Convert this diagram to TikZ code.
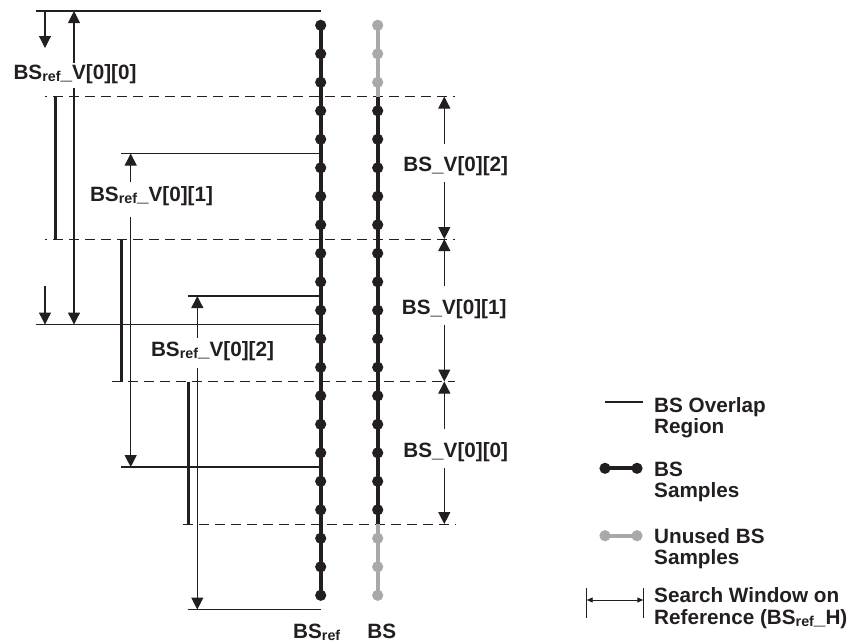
\documentclass[tikz,border=0pt]{standalone}
\usepackage{fontspec}
\setmainfont{Liberation Sans}
\usetikzlibrary{arrows.meta}
\definecolor{ink}{HTML}{231F20}
\definecolor{unused}{HTML}{A8A9AB}
\newcommand\refsub{\raisebox{-2.2pt}{\fontsize{14.3}{14.3}\selectfont ref}}

\begin{document}
\begin{tikzpicture}[x=1pt,y=-1pt,
  lbl/.style={font=\fontsize{20.7}{21.5}\selectfont\bfseries, text=ink, inner xsep=0pt, inner ysep=0pt, anchor=base},
  key/.style={lbl, align=left, anchor=base west},
  rule/.style={draw=ink, line width=1.2pt},
  dimline/.style={draw=ink, line width=1.1pt, -{Triangle[length=12pt,width=12pt]}},
  split/.style={draw=ink, line width=1pt, dash pattern=on 10pt off 6pt},
  overlap/.style={draw=ink, line width=3pt},
  column/.style={line width=3.8pt},
  dotr/.style={radius=5.6pt},
]
\useasboundingbox (0,0) rectangle (851,643);

% sample positions of the reference column (r) and the current column (b)
\foreach \k in {0,...,20} {
  \coordinate (r\k) at (320.7,{25.3+28.5*\k});
  \coordinate (b\k) at (377.7,{25.3+28.5*\k});
}
% block boundaries
\coordinate (s0) at (455,96.55);
\coordinate (s1) at (455,239.05);
\coordinate (s2) at (455,381.55);
\coordinate (s3) at (455,524.05);

% dashed block boundaries
\draw[split, dash phase=8pt] (45,96.55) -- (s0);
\draw[split, dash phase=8pt] (45,239.05) -- (s1);
\draw[split] (111.7,381.55) -- (s2);
\draw[split] (182.7,524.05) -- (s3);

% overlap regions
\draw[overlap] (55,96.55) -- (55,239.05);
\draw[overlap] (121,239.05) -- (121,381.55);
\draw[overlap] (188,381.55) -- (188,524.05);

% search window edges
\coordinate (w0t) at (35.7,11.05);   \coordinate (w0b) at (35.7,324.55);
\coordinate (w1t) at (120.7,153.55); \coordinate (w1b) at (120.7,467.05);
\coordinate (w2t) at (187.5,296.05); \coordinate (w2b) at (187.5,609.55);
\foreach \w in {w0t,w0b,w1t,w1b,w2t,w2b}
  \draw[rule] (\w) -- (\w -| r0);

% search window labels and arrows
\node[lbl, text height=14pt, text depth=7pt, inner ysep=2pt] (L0) at (75,79) {BS\refsub\_V[0][0]};
\node[lbl, text height=15pt, text depth=10pt, inner ysep=5pt] (L1) at (151.5,201.7) {BS\refsub\_V[0][1]};
\node[lbl, text height=14pt, text depth=8pt, inner ysep=4pt] (L2) at (212.5,356) {BS\refsub\_V[0][2]};
\coordinate (a0t) at (74,11.05);    \coordinate (a0b) at (74,324.55);
\coordinate (a1t) at (130.7,153.55); \coordinate (a1b) at (130.7,467.05);
\coordinate (a2t) at (197.3,296.05); \coordinate (a2b) at (197.3,609.55);
\draw[dimline] (L0.north -| a0t) -- (a0t);
\draw[dimline] (L0.south -| a0t) -- (a0b);
\draw[dimline] (L1.north -| a1t) -- (a1t);
\draw[dimline] (L1.south -| a1t) -- (a1b);
\draw[dimline] (L2.north -| a2t) -- (a2t);
\draw[dimline] (L2.south -| a2t) -- (a2b);

% shift markers of the first window
\coordinate (m0) at (45,11.05);  \coordinate (m0e) at (45,48);
\coordinate (m1) at (45,286);    \coordinate (m1e) at (45,324.55);
\draw[dimline] (m0) -- (m0e);
\draw[dimline] (m1) -- (m1e);

% block labels and arrows on the right
\coordinate (ax0) at (444.3,96.55);
\coordinate (ax1) at (444.3,239.05);
\coordinate (ax2) at (444.3,381.55);
\coordinate (ax3) at (444.3,524.05);
\node[lbl, text height=22pt, text depth=4.5pt, inner ysep=6pt] (V2) at (455.8,171.7) {BS\_V[0][2]};
\node[lbl, text height=22pt, text depth=4.5pt, inner ysep=6pt] (V1) at (454.2,314) {BS\_V[0][1]};
\node[lbl, text height=22pt, text depth=4.5pt, inner ysep=6pt] (V0) at (455.8,457.3) {BS\_V[0][0]};
\draw[dimline] (V2.north -| ax0) -- (ax0);
\draw[dimline] (V2.south -| ax0) -- (ax1);
\draw[dimline] (V1.north -| ax0) -- (ax1);
\draw[dimline] (V1.south -| ax0) -- (ax2);
\draw[dimline] (V0.north -| ax0) -- (ax2);
\draw[dimline] (V0.south -| ax0) -- (ax3);

% reference column
\draw[ink, column] (r0) -- (r20);
\foreach \k in {0,...,20} \fill[ink] (r\k) circle[dotr];

% current column: unused samples in grey
\draw[unused, column] (b0) -- (b0 |- s0);
\draw[ink, column] (b0 |- s0) -- (b0 |- s3);
\draw[unused, column] (b0 |- s3) -- (b20);
\foreach \k in {0,1,2,18,19,20} \fill[unused] (b\k) circle[dotr];
\foreach \k in {3,...,17} \fill[ink] (b\k) circle[dotr];

% column captions
\node[lbl] (cref) at (316.7,638.3) {BS\refsub};
\node[lbl] (ccur) at (381.7,638.3) {BS};

% legend (key texts are placed by the baseline of their last line)
\coordinate (k0a) at (605,401.7); \coordinate (k0b) at (643,401.7);
\draw[ink, line width=2.2pt] (k0a) -- (k0b);
\node[key] (t0) at (654,433.8) {BS Overlap\\Region};

\coordinate (k1a) at (605,468.3); \coordinate (k1b) at (637,468.3);
\draw[ink, column] (k1a) -- (k1b);
\fill[ink] (k1a) circle[dotr] (k1b) circle[dotr];
\node[key] (t1) at (654,497.5) {BS\\Samples};

\coordinate (k2a) at (605,535.7); \coordinate (k2b) at (637,535.7);
\draw[unused, column] (k2a) -- (k2b);
\fill[unused] (k2a) circle[dotr] (k2b) circle[dotr];
\node[key] (t2) at (654,564.8) {Unused BS\\Samples};

\coordinate (k3a) at (586.7,600); \coordinate (k3b) at (643.3,600);
\draw[ink, line width=1pt] (586.7,588) -- (586.7,618);
\draw[ink, line width=1pt] (643.3,588) -- (643.3,618);
\draw[ink, line width=0.9pt, {Triangle[length=6pt,width=5pt]}-{Triangle[length=6pt,width=5pt]}] (k3a) -- (k3b);
\node[key] (t3) at (654,624) {Search Window on\\Reference (BS\refsub\_H)};
\end{tikzpicture}
\end{document}
